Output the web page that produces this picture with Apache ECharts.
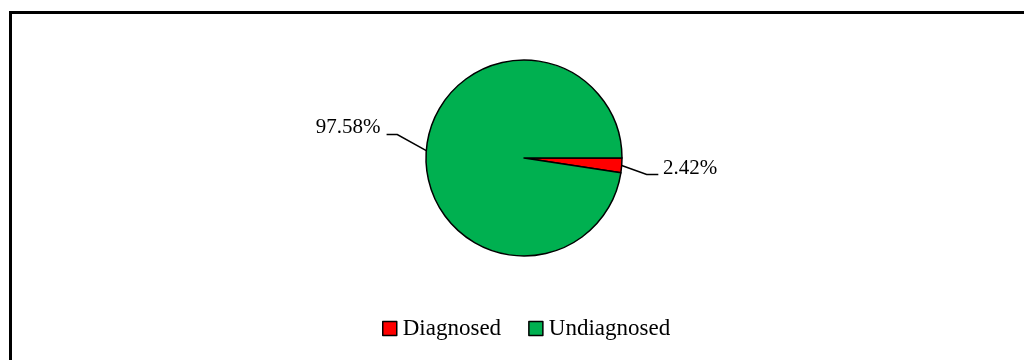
<!DOCTYPE html>
<html>
<head>
<meta charset="utf-8">
<script src="https://cdn.jsdelivr.net/npm/echarts@6/dist/echarts.min.js"></script>
<style>
html,body{margin:0;padding:0;background:#fff;}
#chart{width:1024px;height:360px;}
</style>
</head>
<body>
<div id="chart"></div>
<script>
const categories = ['Diagnosed', 'Undiagnosed'];
const values = [2.42, 97.58];
const colors = ['#FF0000', '#00B050'];

const chart = echarts.init(document.getElementById('chart'), null, {renderer: 'canvas'});
const FONT = '"Liberation Serif", "Times New Roman", serif';

// leader-line shape (offsets from the slice edge point ECharts computes)
const leader = [
  {d1: [25, 9], d2: 11.6, gap: 4.7, lift: 5.5},     // Diagnosed (right)
  {d1: [-29, -16], d2: -10.7, gap: 6, lift: 7}      // Undiagnosed (left)
];

chart.setOption({
  animation: false,
  backgroundColor: '#ffffff',
  graphic: [
    {type: 'line', shape: {x1: 9, y1: 12.5, x2: 1024, y2: 12.5}, style: {stroke: '#000', lineWidth: 3}},
    {type: 'line', shape: {x1: 10.5, y1: 11, x2: 10.5, y2: 360}, style: {stroke: '#000', lineWidth: 3}}
  ],
  legend: {
    data: categories,
    left: 377,
    top: 312,
    icon: 'rect',
    itemWidth: 14,
    itemHeight: 14,
    itemGap: 27,
    itemStyle: {borderColor: '#000', borderWidth: 1.5},
    textStyle: {fontFamily: FONT, fontSize: 23, color: '#000', padding: [0, 0, 0, 1]}
  },
  series: [{
    type: 'pie',
    center: [524, 158],
    radius: 98,
    startAngle: 0,
    clockwise: true,
    avoidLabelOverlap: false,
    itemStyle: {borderColor: '#000', borderWidth: 1.5},
    label: {
      show: true,
      formatter: '{d}%',
      fontFamily: FONT,
      fontSize: 21,
      color: '#000',
      distanceToLabelLine: 5
    },
    labelLine: {
      show: true,
      length: 30,
      length2: 11,
      lineStyle: {color: '#000', width: 1.5}
    },
    labelLayout: function (params) {
      const pts = params.labelLinePoints;
      const r = params.labelRect;
      if (!pts || !r) return {};
      const L = leader[params.dataIndex];
      const p0 = pts[0];
      const p1 = [p0[0] + L.d1[0], p0[1] + L.d1[1]];
      const p2 = [p1[0] + L.d2, p1[1]];
      const cy = r.y + r.height / 2;
      let dx;
      if (L.d2 > 0) dx = (p2[0] + L.gap) - r.x;
      else dx = (p2[0] - L.gap) - (r.x + r.width);
      const dy = (p1[1] - L.lift) - cy;
      return {dx: dx, dy: dy, labelLinePoints: [p0, p1, p2]};
    },
    emphasis: {disabled: true},
    data: categories.map((c, i) => ({name: c, value: values[i], itemStyle: {color: colors[i]}}))
  }]
});
</script>
</body>
</html>
